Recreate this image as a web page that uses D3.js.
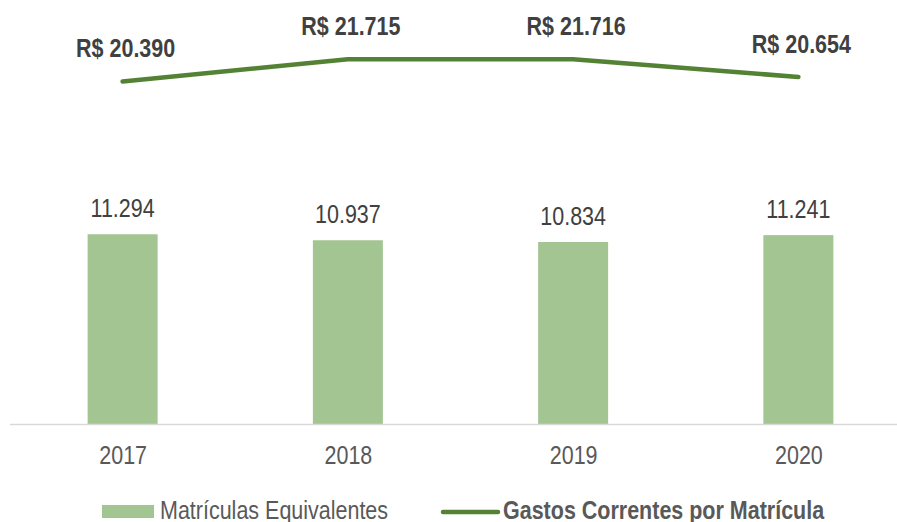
<!DOCTYPE html>
<html>
<head>
<meta charset="utf-8">
<script src="https://cdn.jsdelivr.net/npm/d3@7"></script>
<style>
  body { margin: 0; background: #fff; }
  text { font-family: "Liberation Sans", Arial, sans-serif; }
</style>
</head>
<body>
<div id="chart"></div>
<script>
var years = ['2017', '2018', '2019', '2020'];
var matriculas = [11294, 10937, 10834, 11241];
var gastos = [20390, 21715, 21716, 20654];
var matriculasLabels = ['11.294', '10.937', '10.834', '11.241'];
var gastosLabels = ['R$ 20.390', 'R$ 21.715', 'R$ 21.716', 'R$ 20.654'];
var legendNames = ['Matrículas Equivalentes', 'Gastos Correntes por Matrícula'];

var w = 897, h = 522;
var barColor = '#a3c592', lineColor = '#548235';
var narrow = 0.86; // no narrow font installed, squeeze horizontally

var x = d3.scalePoint().domain(years).range([10, 911]).padding(0.5);
var y = d3.scaleLinear().domain([0, 25000]).range([424, 4]);

var svg = d3.select('#chart')
  .append('svg')
    .attr('width', w)
    .attr('height', h);

var data = years.map(function(d, i) {
  return { year: d, mat: matriculas[i], gas: gastos[i], matLabel: matriculasLabels[i], gasLabel: gastosLabels[i] };
});

function place(px, py) {
  return 'translate(' + px + ',' + py + ') scale(' + narrow + ',1)';
}

// bars
var barW = 70;
svg.selectAll('rect.bar')
  .data(data)
  .enter()
  .append('rect')
    .attr('class', 'bar')
    .attr('x', function(d) { return x(d.year) - barW / 2; })
    .attr('y', function(d) { return y(d.mat); })
    .attr('width', barW)
    .attr('height', function(d) { return y(0) - y(d.mat); })
    .attr('fill', barColor);

// x axis
var xAxis = d3.axisBottom(x).tickSize(0).tickPadding(22);
var gx = svg.append('g')
  .attr('transform', 'translate(0,' + y(0) + ')')
  .call(xAxis);
gx.select('.domain').attr('d', 'M10,0.5H897').attr('stroke', '#d9d9d9').attr('stroke-width', 1.5);
gx.selectAll('.tick text')
  .attr('font-size', 25)
  .attr('fill', '#595959')
  .attr('transform', 'scale(' + narrow + ',1)')
  .style('font-family', '"Liberation Sans", Arial, sans-serif');

// bar labels
svg.selectAll('text.barlabel')
  .data(data)
  .enter()
  .append('text')
    .attr('class', 'barlabel')
    .attr('transform', function(d) { return place(x(d.year), y(d.mat) - 17); })
    .attr('text-anchor', 'middle')
    .attr('font-size', 25)
    .attr('fill', '#404040')
    .text(function(d) { return d.matLabel; });

// line
var line = d3.line()
  .x(function(d) { return x(d.year); })
  .y(function(d) { return y(d.gas); });

svg.append('path')
  .attr('d', line(data))
  .attr('fill', 'none')
  .attr('stroke', lineColor)
  .attr('stroke-width', 4.5)
  .attr('stroke-linecap', 'round')
  .attr('stroke-linejoin', 'round');

svg.selectAll('text.linelabel')
  .data(data)
  .enter()
  .append('text')
    .attr('class', 'linelabel')
    .attr('transform', function(d) { return place(x(d.year) + 3, y(d.gas) - 24); })
    .attr('text-anchor', 'middle')
    .attr('font-size', 25)
    .attr('font-weight', 'bold')
    .attr('fill', '#404040')
    .text(function(d) { return d.gasLabel; });

// legend
var lg = svg.append('g');
lg.append('rect')
  .attr('x', 102).attr('y', 505).attr('width', 52).attr('height', 13)
  .attr('fill', barColor);
lg.append('text')
  .attr('transform', place(160, 519))
  .attr('font-size', 25)
  .attr('fill', '#595959')
  .text(legendNames[0]);
lg.append('line')
  .attr('x1', 443).attr('x2', 498).attr('y1', 512).attr('y2', 512)
  .attr('stroke', lineColor).attr('stroke-width', 4.5).attr('stroke-linecap', 'round');
lg.append('text')
  .attr('transform', place(503, 519))
  .attr('font-size', 25)
  .attr('font-weight', 'bold')
  .attr('fill', '#595959')
  .text(legendNames[1]);
</script>
</body>
</html>
